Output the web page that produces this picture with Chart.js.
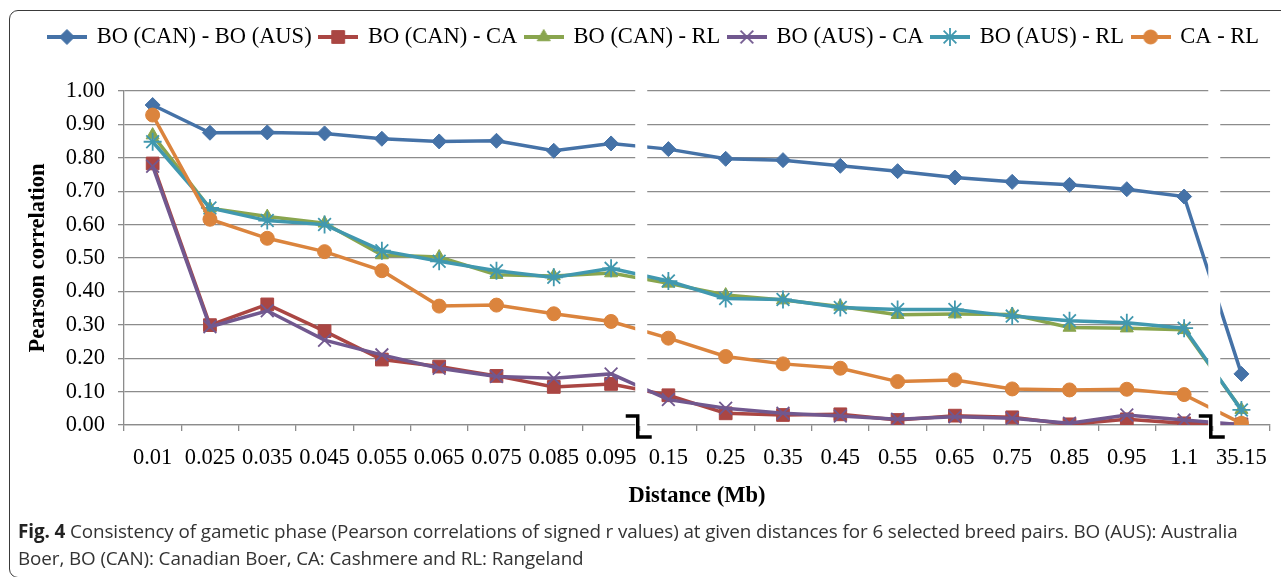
<!DOCTYPE html>
<html>
<head>
<meta charset="utf-8">
<title>Fig. 4</title>
<script src="https://cdn.jsdelivr.net/npm/chart.js@4.4.1/dist/chart.umd.min.js"></script>
<style>
  html, body { margin: 0; padding: 0; background: #fff; }
  #wrap { position: relative; width: 1281px; height: 577px; overflow: hidden; }
  #frame {
    position: absolute; left: 9px; top: 10px; width: 1320px; height: 568px;
    border: 1.5px solid #3a3a3a; border-radius: 9px; box-sizing: border-box;
  }
  #comparison { position: absolute; left: 0; top: 0; }
  #caption {
    position: absolute; left: 18px; top: 518px;
    font-family: 'Open Sans', sans-serif; font-size: 18.85px; line-height: 27px;
    color: #333; white-space: nowrap; letter-spacing: -0.1px;
  }
  #caption b { color: #222; }
</style>
</head>
<body>
<div id="wrap">
  <div id="frame"></div>
  <canvas id="comparison" width="1281" height="577"></canvas>
  <div id="caption"><b>Fig. 4</b> Consistency of gametic phase (Pearson correlations of signed r values) at given distances for 6 selected breed pairs. BO (AUS): Australia<br>Boer, BO (CAN): Canadian Boer, CA: Cashmere and RL: Rangeland</div>
</div>
<script>
// 距離 (Mb) - 横軸
var distances = ['0.01', '0.025', '0.035', '0.045', '0.055', '0.065', '0.075', '0.085', '0.095',
                 '0.15', '0.25', '0.35', '0.45', '0.55', '0.65', '0.75', '0.85', '0.95', '1.1', '35.15'];
// 軸の切れ目 (この区分の後ろ)
var breakAfter = ['0.095', '1.1'];

var boCanBoAus = [0.958, 0.875, 0.876, 0.873, 0.857, 0.849, 0.851, 0.821, 0.843,
                  0.826, 0.797, 0.793, 0.776, 0.760, 0.741, 0.728, 0.719, 0.706, 0.684, 0.153];
var boCanCa    = [0.783, 0.299, 0.361, 0.281, 0.196, 0.175, 0.147, 0.114, 0.123,
                  0.089, 0.035, 0.030, 0.032, 0.015, 0.028, 0.023, 0.002, 0.017, 0.005, 0.002];
var boCanRl    = [0.868, 0.649, 0.624, 0.604, 0.509, 0.503, 0.450, 0.446, 0.455,
                  0.424, 0.389, 0.374, 0.355, 0.330, 0.332, 0.331, 0.292, 0.290, 0.285, 0.046];
var boAusCa    = [0.775, 0.294, 0.342, 0.254, 0.210, 0.170, 0.145, 0.140, 0.153,
                  0.076, 0.050, 0.035, 0.027, 0.017, 0.025, 0.020, 0.005, 0.030, 0.015, 0.001];
var boAusRl    = [0.848, 0.650, 0.612, 0.600, 0.522, 0.490, 0.462, 0.442, 0.469,
                  0.431, 0.379, 0.376, 0.352, 0.346, 0.346, 0.326, 0.312, 0.306, 0.290, 0.045];
var caRl       = [0.928, 0.616, 0.559, 0.519, 0.462, 0.356, 0.359, 0.333, 0.310,
                  0.260, 0.205, 0.183, 0.170, 0.130, 0.135, 0.108, 0.105, 0.107, 0.091, 0.005];

// y軸の目盛り
var yTicks = [0, 0.1, 0.2, 0.3, 0.4, 0.5, 0.6, 0.7, 0.8, 0.9, 1.0];

var serif = "'Liberation Serif', 'Times New Roman', serif";
var gridColor = '#8c8c8c';

Chart.defaults.font.family = serif;
Chart.defaults.color = '#000';

var makeSeries = function(label, data, color, style, radius, border, order) {
  return {
    label: label,
    data: data,
    borderColor: color,
    backgroundColor: color,
    borderWidth: 3.5,
    tension: 0,
    pointStyle: style,
    pointRadius: radius,
    pointBackgroundColor: color,
    pointBorderColor: color,
    pointBorderWidth: border,
    order: order
  };
};

var series = [
  makeSeries('BO (CAN) - BO (AUS)', boCanBoAus, '#4572A7', 'rectRot', 7.5, 1, 6),
  makeSeries('BO (CAN) - CA',       boCanCa,    '#AA4643', 'rect', 9, 1, 5),
  makeSeries('BO (CAN) - RL',       boCanRl,    '#89A54E', 'triangle', 7.5, 1, 4),
  makeSeries('BO (AUS) - CA',       boAusCa,    '#71588F', 'crossRot', 9, 1.8, 3),
  makeSeries('BO (AUS) - RL',       boAusRl,    '#4198AF', 'star', 9, 1.8, 2),
  makeSeries('CA - RL',             caRl,       '#DB843D', 'circle', 7, 1, 1)
];

// 凡例のアイコン (線 + マーカー)
var legendIcon = function(ds) {
  var c = document.createElement('canvas');
  c.width = 40; c.height = 20;
  var g = c.getContext('2d');
  g.strokeStyle = ds.borderColor;
  g.fillStyle = ds.borderColor;
  g.lineWidth = 4;
  g.beginPath();
  g.moveTo(0, 10); g.lineTo(40, 10);
  g.stroke();
  g.lineWidth = ds.pointBorderWidth;
  Chart.helpers.drawPoint(g, {pointStyle: ds.pointStyle, radius: ds.pointRadius, borderWidth: ds.pointBorderWidth, rotation: 0}, 20, 10);
  return c;
};

// 凡例の下の余白と位置
var legendSpacer = {
  id: 'legendSpacer',
  beforeInit: function(chart) {
    var legend = chart.legend;
    var fit = legend.fit;
    legend.fit = function() {
      fit.bind(legend)();
      this.height += 32.75;
    };
    var draw = legend.draw;
    legend.draw = function() {
      chart.ctx.save();
      chart.ctx.translate(7, 0);
      draw.bind(legend)();
      chart.ctx.restore();
    };
  }
};

// 軸の切れ目
var axisBreak = {
  id: 'axisBreak',
  afterDatasetsDraw: function(chart) {
    var ctx = chart.ctx, area = chart.chartArea, x = chart.scales.x;
    breakAfter.forEach(function(label) {
      var i = distances.indexOf(label);
      var b = (x.getPixelForValue(i) + x.getPixelForValue(i + 1)) / 2;
      ctx.save();
      ctx.fillStyle = '#fff';
      ctx.fillRect(b - 4.5, area.top - 2, 12, area.bottom - area.top + 3);
      ctx.strokeStyle = '#000';
      ctx.lineWidth = 3.5;
      ctx.beginPath();
      ctx.moveTo(b - 14, area.bottom - 9);
      ctx.lineTo(b - 2, area.bottom - 9);
      ctx.lineTo(b - 2, area.bottom + 12);
      ctx.lineTo(b + 12, area.bottom + 12);
      ctx.stroke();
      ctx.restore();
    });
  }
};

var ctx = document.getElementById('comparison').getContext('2d');
var myChart = new Chart(ctx, {
  type: 'line',
  data: { labels: distances, datasets: series },
  options: {
    responsive: false,
    animation: false,
    layout: { padding: { top: 17.75, left: 20.5, right: 8, bottom: 63.5 } },
    plugins: {
      legend: {
        position: 'top',
        labels: {
          usePointStyle: true,
          pointStyleWidth: 37,
          padding: 8,
          color: '#000',
          font: { family: serif, size: 22.5 },
          generateLabels: function(chart) {
            return chart.data.datasets.map(function(ds, i) {
              return {
                text: ds.label,
                pointStyle: legendIcon(ds),
                fillStyle: ds.borderColor,
                strokeStyle: ds.borderColor,
                lineWidth: 0,
                hidden: false,
                datasetIndex: i,
                fontColor: '#000'
              };
            });
          }
        }
      },
      tooltip: { enabled: false }
    },
    scales: {
      x: {
        offset: true,
        grid: { offset: true, drawOnChartArea: false, tickLength: 6, color: gridColor, lineWidth: 1.3 },
        border: { color: gridColor, width: 1.3 },
        ticks: { color: '#000', font: { size: 22.5 }, padding: 14, maxRotation: 0, autoSkip: false },
        title: { display: true, text: 'Distance (Mb)', color: '#000', font: { size: 22.5, weight: 'bold' } },
        afterFit: function(s) { s.height = 88.5; }
      },
      y: {
        min: 0,
        max: 1,
        afterBuildTicks: function(s) { s.ticks = yTicks.map(function(v) { return { value: v }; }); },
        ticks: { color: '#000', font: { size: 22.5 }, padding: 13,
                 callback: function(v) { return Number(v).toFixed(2); } },
        grid: { color: gridColor, lineWidth: 1.3, tickLength: 6 },
        border: { color: gridColor, width: 1.3 },
        title: { display: true, text: 'Pearson correlation', color: '#000', font: { size: 22.5, weight: 'bold' } },
        afterFit: function(s) { s.width = 103.5; }
      }
    }
  },
  plugins: [legendSpacer, axisBreak]
});
</script>
</body>
</html>
